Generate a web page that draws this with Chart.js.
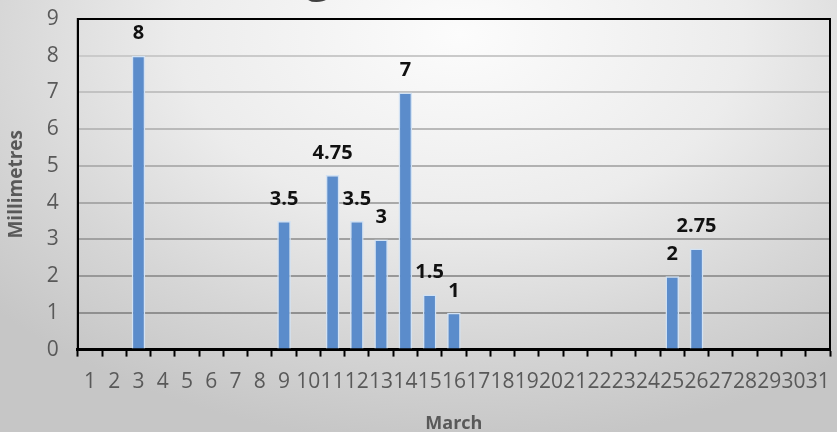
<!DOCTYPE html>
<html>
<head>
<meta charset="utf-8">
<script src="https://cdn.jsdelivr.net/npm/chart.js@4.4.1/dist/chart.umd.min.js"></script>
<style>
  html, body { margin: 0; padding: 0; overflow: hidden; }
  body {
    width: 837px; height: 432px; position: relative;
    background: radial-gradient(ellipse 75% 95% at 55% 8%, #fcfcfc 0%, #ececec 45%, #d6d6d6 75%, #c6c6c6 100%);
  }
  #wrap { position: absolute; left: 0; top: -49px; width: 837px; height: 481px; }
</style>
</head>
<body>
<div id="wrap"><canvas id="rain"></canvas></div>
<script>
// Daily rainfall for March
const days = Array.from({ length: 31 }, (_, i) => String(i + 1));
const rainfall = [null, null, 8, null, null, null, null, null, 3.5, null,
    4.75, 3.5, 3, 7, 1.5, 1, null, null, null, null,
    null, null, null, null, 2, 2.75, null, null, null, null, null];
const yTicks = [0, 1, 2, 3, 4, 5, 6, 7, 8, 9];

const TEXT = '#595959';
const FONT = "'Open Sans', sans-serif";

function gridShade(value) {
    // lines fade from dark at the bottom to pale at the top
    const t = value / 9;
    const c = Math.round(0x88 + (0xd2 - 0x88) * t);
    return `rgb(${c},${c},${c})`;
}

// value labels above each bar
const barLabels = {
    id: 'barLabels',
    afterDatasetsDraw(chart) {
        const ctx = chart.ctx;
        const meta = chart.getDatasetMeta(0);
        ctx.save();
        ctx.font = `bold 20px ${FONT}`;
        ctx.fillStyle = '#111';
        ctx.textAlign = 'center';
        ctx.textBaseline = 'bottom';
        meta.data.forEach((bar, i) => {
            const v = rainfall[i];
            if (v == null) return;
            ctx.fillText(String(v), bar.x, bar.y - 12);
        });
        ctx.restore();
    }
};

// black frame around the plot area
const plotFrame = {
    id: 'plotFrame',
    afterDraw(chart) {
        const { ctx, chartArea: a } = chart;
        ctx.save();
        ctx.strokeStyle = '#000';
        ctx.lineWidth = 2;
        ctx.beginPath();
        ctx.moveTo(a.left, a.bottom);
        ctx.lineTo(a.left, a.top);
        ctx.lineTo(a.right, a.top);
        ctx.lineTo(a.right, a.bottom);
        ctx.stroke();
        ctx.restore();
    }
};

new Chart(document.getElementById('rain'), {
    type: 'bar',
    data: {
        labels: days,
        datasets: [{
            label: 'Millimetres',
            data: rainfall,
            backgroundColor: '#5b8ccb',
            borderColor: '#d2e2f4',
            borderWidth: 1.5,
            barPercentage: 0.56,
            categoryPercentage: 1
        }]
    },
    options: {
        responsive: true,
        maintainAspectRatio: false,
        animation: false,
        layout: { padding: { left: 0, right: 7, bottom: 0 } },
        plugins: {
            legend: { display: false },
            tooltip: { enabled: false },
            title: {
                display: true,
                text: 'Rainfall during March',
                align: 'start',
                color: '#404040',
                font: { family: FONT, size: 45, weight: 'bold', lineHeight: 1.2 },
                padding: { top: 0, bottom: 14 }
            }
        },
        scales: {
            x: {
                afterFit(scale) {
                    // label padding would otherwise leave a gap on the right
                    scale.paddingRight = 0;
                },
                grid: {
                    offset: true,
                    drawOnChartArea: false,
                    drawTicks: true,
                    tickLength: 7,
                    tickWidth: 2,
                    tickColor: '#000'
                },
                border: { display: true, color: '#000', width: 3 },
                ticks: {
                    color: TEXT,
                    autoSkip: false,
                    maxRotation: 0,
                    padding: 13,
                    font: { family: FONT, size: 21 }
                },
                title: {
                    display: true,
                    text: 'March',
                    color: TEXT,
                    font: { family: FONT, size: 18, weight: 'bold', lineHeight: 0.9 },
                    padding: { top: 8, bottom: 0 }
                }
            },
            y: {
                min: 0,
                max: 9,
                afterBuildTicks(scale) {
                    scale.ticks = yTicks.map((v) => ({ value: v }));
                },
                grid: {
                    drawTicks: false,
                    lineWidth: 2,
                    color: (c) => gridShade(c.tick.value)
                },
                border: { display: true, color: '#000', width: 2 },
                ticks: {
                    color: TEXT,
                    padding: 19,
                    font: { family: FONT, size: 21 }
                },
                title: {
                    display: true,
                    text: 'Millimetres',
                    color: TEXT,
                    font: { family: FONT, size: 19, weight: 'bold' },
                    padding: { top: 5, bottom: 0 }
                }
            }
        }
    },
    plugins: [barLabels, plotFrame]
});
</script>
</body>
</html>
